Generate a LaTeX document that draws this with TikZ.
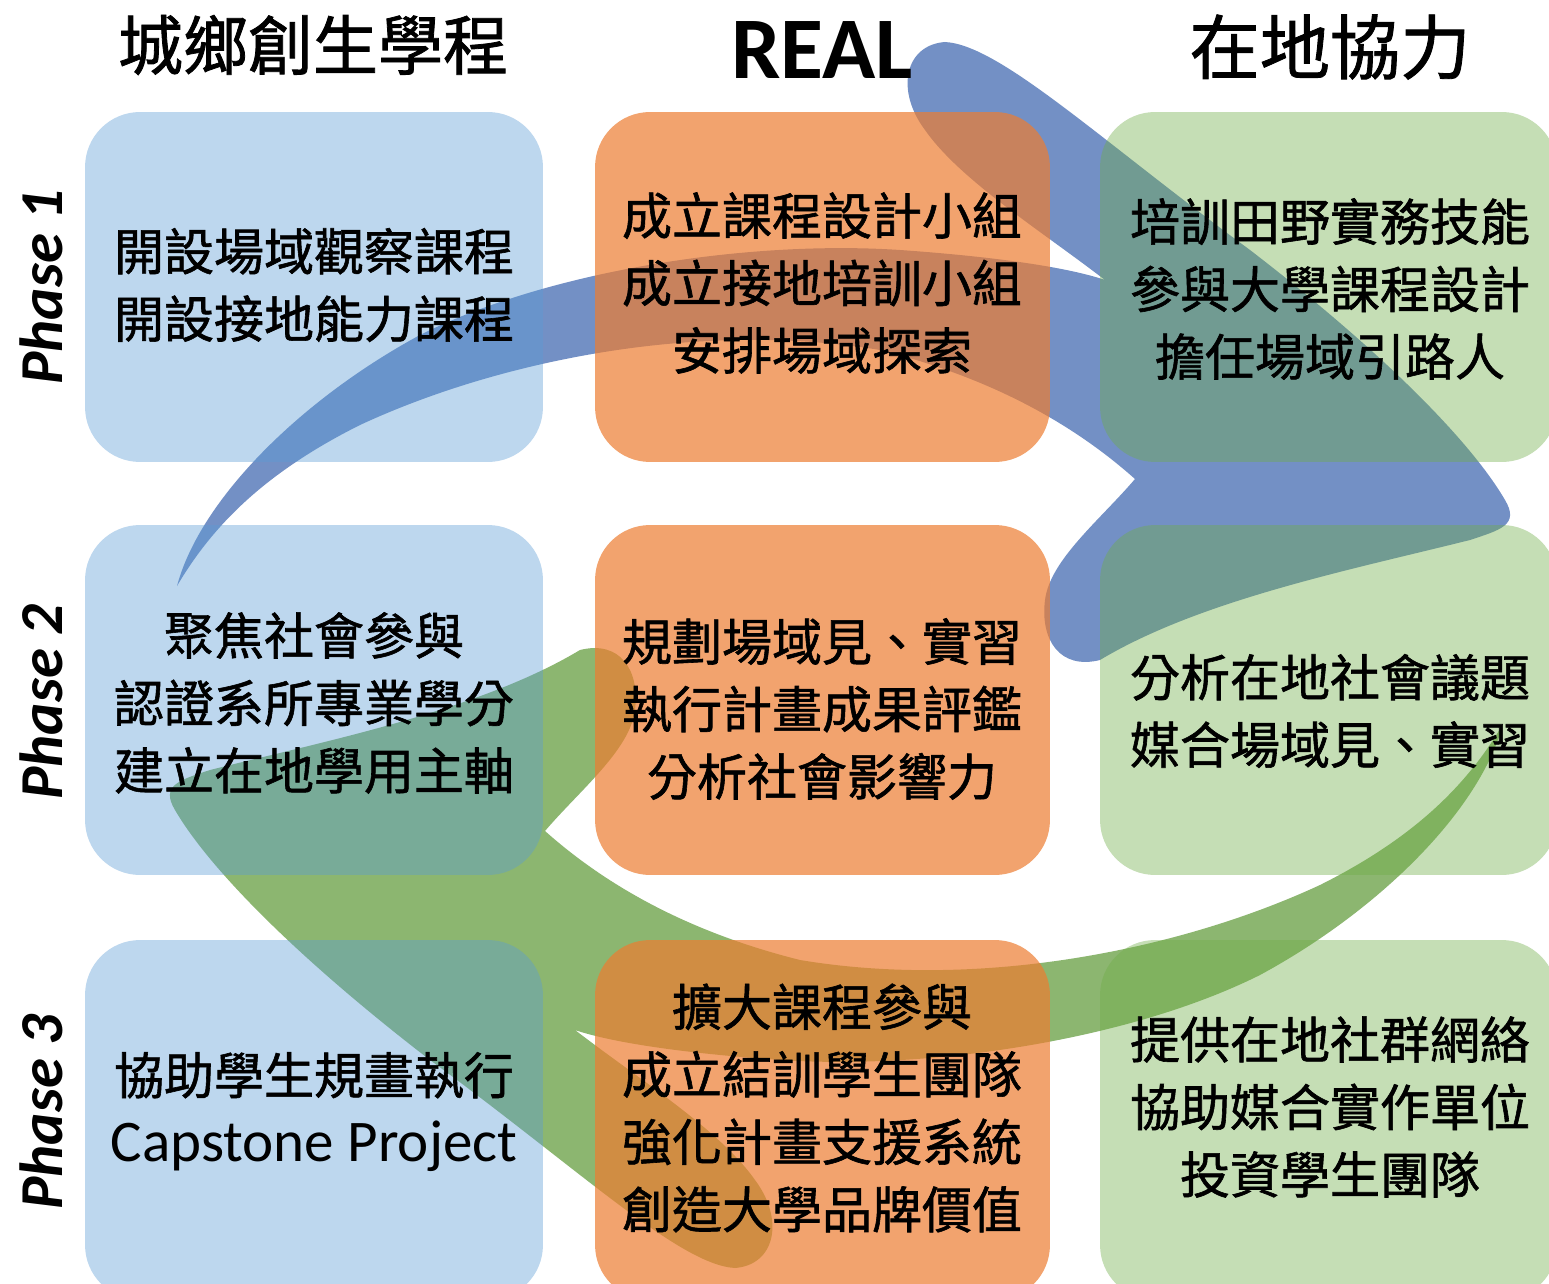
\documentclass[tikz,border=0pt]{standalone}
\usepackage{fontspec}
\newfontfamily\cjkfont[FakeBold=1.2]{Noto Sans CJK TC}
\newfontfamily\calfont{Carlito}
\definecolor{accblue}{RGB}{91,155,213}
\definecolor{accorange}{RGB}{237,125,49}
\definecolor{accgreen}{RGB}{112,173,71}
\definecolor{arrblue}{RGB}{115,144,197}
\definecolor{arrgreen}{RGB}{140,182,112}
\tikzset{
  bandarrow/.pic={
    \fill[pic actions] (177,586)
      .. controls (200,500) and (300,400) .. (420,335)
      .. controls (550,270) and (750,240) .. (900,250)
      .. controls (1000,257) and (1070,268) .. (1105,280)
      .. controls (1040,230) and (960,180) .. (925,130)
      .. controls (895,90) and (905,45) .. (945,42)
      .. controls (1000,45) and (1100,140) .. (1250,250)
      .. controls (1380,350) and (1470,440) .. (1505,500)
      .. controls (1520,525) and (1500,530) .. (1470,540)
      .. controls (1350,570) and (1200,600) .. (1100,660)
      .. controls (1060,670) and (1040,640) .. (1045,600)
      .. controls (1050,560) and (1100,520) .. (1135,479)
      .. controls (1080,430) and (1000,380) .. (880,350)
      .. controls (700,320) and (500,360) .. (360,425)
      .. controls (260,475) and (210,530) .. (177,586)
      -- cycle;
  },
  cell/.style={rectangle, rounded corners=1.1cm, inner sep=0pt, fill opacity=0.4, draw=none},
  bluecell/.style={cell, fill=accblue, minimum width=9.16cm},
  orangecell/.style={cell, fill=accorange, fill opacity=0.7, minimum width=9.1cm},
  greencell/.style={cell, fill=accgreen, minimum width=9.14cm},
  celltext/.style={font=\cjkfont\fontsize{28.45}{38.4}\selectfont, align=center, inner sep=0pt, text=black},
  phase/.style={rotate=90, font=\calfont\bfseries\itshape\fontsize{34.7}{40}\selectfont, inner sep=0pt},
}
\begin{document}
\begin{tikzpicture}[x=0.02cm, y=-0.02cm]
\useasboundingbox (0,0) rectangle (1549,1284);
\clip (0,0) rectangle (1549,1284);
\fill[white] (0,0) rectangle (1549,1284);

% arrows (behind the translucent cells)
\pic[fill=arrblue] (arrowblue) at (0,0) {bandarrow};
\pic[fill=arrgreen, rotate=180] (arrowgreen) at (1680,1310) {bandarrow};

% cells
\node[bluecell, minimum height=7cm] (b1) at (314,287) {};
\node[bluecell, minimum height=7cm] (b2) at (314,700) {};
\node[bluecell, minimum height=7.2cm] (b3) at (314,1120) {};
\node[orangecell, minimum height=7cm] (o1) at (822.5,287) {};
\node[orangecell, minimum height=7cm] (o2) at (822.5,700) {};
\node[orangecell, minimum height=7.2cm] (o3) at (822.5,1120) {};
\node[greencell, minimum height=7cm] (g1) at (1328.5,287) {};
\node[greencell, minimum height=7cm] (g2) at (1328.5,700) {};
\node[greencell, minimum height=7.2cm] (g3) at (1328.5,1120) {};

% headers
\node[font=\cjkfont\fontsize{37}{40}\selectfont, inner sep=0pt] (h1) at (313,45) {城鄉創生學程};
\node[font=\calfont\bfseries\fontsize{50}{56}\selectfont, inner sep=0pt] (h2) at (822,50) {REAL};
\node[font=\cjkfont\fontsize{40}{44}\selectfont, inner sep=0pt] (h3) at (1330,47) {在地協力};

% phase labels
\node[phase] (p1) at (41,287) {Phase 1};
\node[phase] (p2) at (41,702) {Phase 2};
\node[phase] (p3) at (41,1112) {Phase 3};

% texts
\node[celltext] (t11) at (314,285) {開設場域觀察課程\\開設接地能力課程};
\node[celltext] (t12) at (822,283) {成立課程設計小組\\成立接地培訓小組\\安排場域探索};
\node[celltext] (t13) at (1330,289) {培訓田野實務技能\\參與大學課程設計\\擔任場域引路人};
\node[celltext] (t21) at (314,703) {聚焦社會參與\\認證系所專業學分\\建立在地學用主軸};
\node[celltext] (t22) at (822,709) {規劃場域見、實習\\執行計畫成果評鑑\\分析社會影響力};
\node[celltext] (t23) at (1330,711) {分析在地社會議題\\媒合場域見、實習};
\node[celltext] (t31) at (314,1112) {協助學生規畫執行\\{\calfont\fontsize{33.6}{38.4}\selectfont Capstone Project}};
\node[celltext] (t32) at (822,1108) {擴大課程參與\\成立結訓學生團隊\\強化計畫支援系統\\創造大學品牌價值};
\node[celltext] (t33) at (1330,1107) {提供在地社群網絡\\協助媒合實作單位\\投資學生團隊};
\end{tikzpicture}
\end{document}
